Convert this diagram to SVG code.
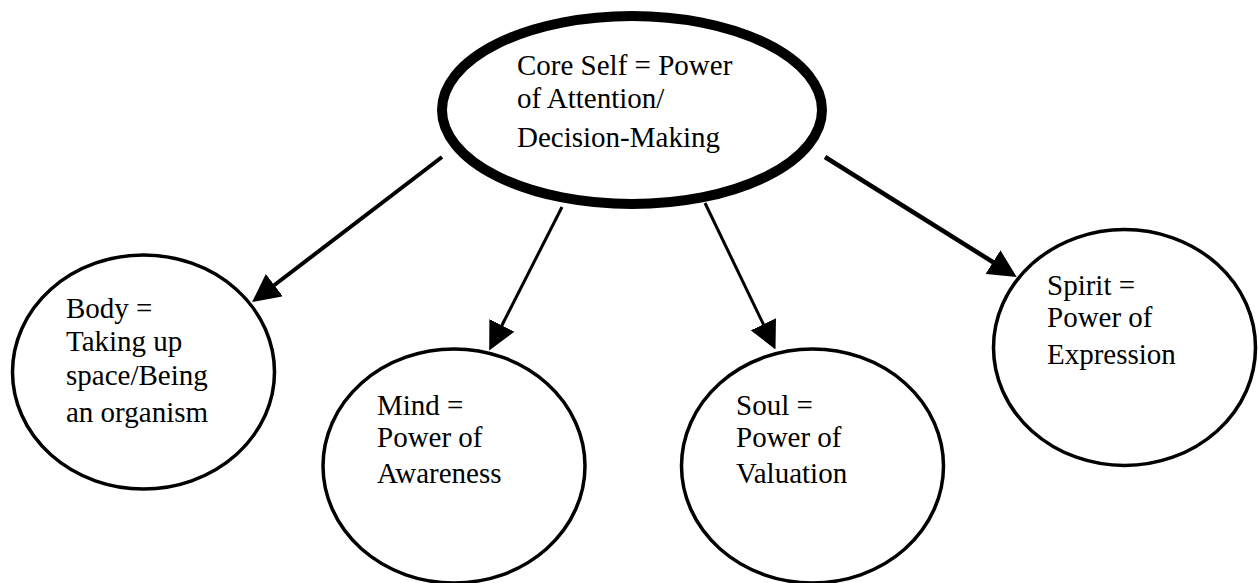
<svg xmlns="http://www.w3.org/2000/svg" width="1259" height="583" viewBox="0 0 1259 583">
<style>
  .node { fill: #ffffff; stroke: #000000; stroke-width: 3.5; }
  .core { fill: #ffffff; stroke: #000000; stroke-width: 10; }
  .lbl { font-family: "Liberation Serif", "Times New Roman", serif; font-size: 29px; fill: #000000; }
  .conn { stroke: #000000; fill: none; marker-end: url(#arrow); }
</style>
<defs>
  <marker id="arrow" viewBox="0 0 28 28" refX="13" refY="14" markerWidth="28" markerHeight="28" markerUnits="userSpaceOnUse" orient="auto">
    <path d="M0,0 L28,14 L0,28 z" fill="#000000"/>
  </marker>
</defs>
<rect x="0" y="0" width="1259" height="583" fill="#ffffff"/>

<g id="connectors">
  <line class="conn" x1="442" y1="157" x2="264" y2="293" stroke-width="4"/>
  <line class="conn" x1="562" y1="207" x2="496" y2="337" stroke-width="3"/>
  <line class="conn" x1="705" y1="203" x2="769" y2="336" stroke-width="3"/>
  <line class="conn" x1="825" y1="157" x2="1004" y2="269" stroke-width="4.5"/>
</g>

<g id="core">
  <ellipse class="core" cx="632" cy="110" rx="190" ry="94"/>
  <text class="lbl" x="517" y="75">Core Self = Power</text>
  <text class="lbl" x="517" y="108">of Attention/</text>
  <text class="lbl" x="517" y="147">Decision-Making</text>
</g>

<g id="body">
  <ellipse class="node" cx="143.5" cy="372" rx="131" ry="117"/>
  <text class="lbl" x="66" y="318">Body =</text>
  <text class="lbl" x="66" y="351">Taking up</text>
  <text class="lbl" x="66" y="385">space/Being</text>
  <text class="lbl" x="66" y="422">an organism</text>
</g>

<g id="mind">
  <ellipse class="node" cx="454" cy="466" rx="131" ry="117"/>
  <text class="lbl" x="377" y="415">Mind =</text>
  <text class="lbl" x="377" y="447">Power of</text>
  <text class="lbl" x="377" y="483">Awareness</text>
</g>

<g id="soul">
  <ellipse class="node" cx="812.5" cy="466" rx="131" ry="117"/>
  <text class="lbl" x="736" y="415">Soul =</text>
  <text class="lbl" x="736" y="447">Power of</text>
  <text class="lbl" x="736" y="483">Valuation</text>
</g>

<g id="spirit">
  <ellipse class="node" cx="1124.5" cy="347.5" rx="131" ry="118"/>
  <text class="lbl" x="1047" y="295">Spirit =</text>
  <text class="lbl" x="1047" y="327">Power of</text>
  <text class="lbl" x="1047" y="364">Expression</text>
</g>
</svg>
